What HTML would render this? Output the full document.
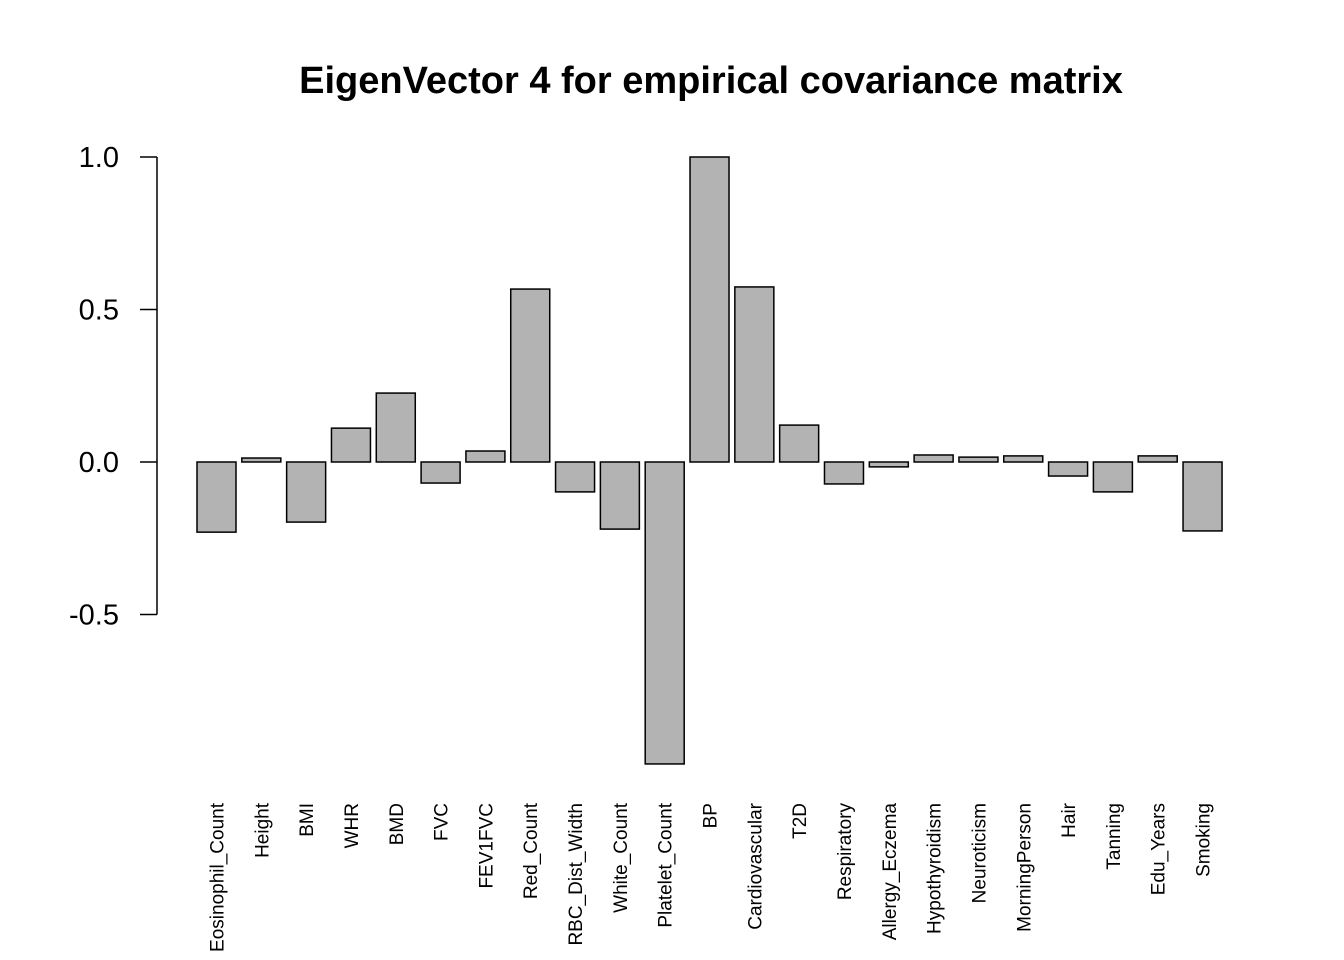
<!DOCTYPE html>
<html><head><meta charset="utf-8"><style>
body{margin:0;background:#fff}
svg{display:block;font-family:"Liberation Sans",Arial,sans-serif}
</style></head><body>
<svg id="chart" width="1344" height="960">
<text x="711" y="93" text-anchor="middle" font-size="38" font-weight="bold">EigenVector 4 for empirical covariance matrix</text>
<g id="yaxis"></g>
<g id="bars"></g>
<g id="xlabels"></g>
</svg>
<script>
const categories=["Eosinophil_Count","Height","BMI","WHR","BMD","FVC","FEV1FVC","Red_Count","RBC_Dist_Width","White_Count","Platelet_Count","BP","Cardiovascular","T2D","Respiratory","Allergy_Eczema","Hypothyroidism","Neuroticism","MorningPerson","Hair","Tanning","Edu_Years","Smoking"];
const values=[-0.23,0.013,-0.197,0.111,0.226,-0.069,0.036,0.567,-0.098,-0.22,-0.99,1.0,0.574,0.121,-0.072,-0.016,0.023,0.016,0.02,-0.046,-0.098,0.02,-0.226];
const yTicks=[-0.5,0.0,0.5,1.0];
const yTickLabels=["-0.5","0.0","0.5","1.0"];
const NS="http://www.w3.org/2000/svg";
const y=v=>462-v*305;
const x=i=>197+i*44.82;
const bw=39;
function mk(t,a,p){const e=document.createElementNS(NS,t);for(const k in a)e.setAttribute(k,a[k]);p.appendChild(e);return e;}
const ya=document.getElementById('yaxis');
const al=mk('line',{x1:157,x2:157,y1:y(yTicks[yTicks.length-1]),y2:y(yTicks[0]),stroke:'#000','stroke-width':1.5},ya);


yTicks.forEach((t,i)=>{
 const l=mk('line',{x1:140,x2:157,y1:y(t),y2:y(t),stroke:'#000','stroke-width':1.5},ya);
 
 
 const tx=mk('text',{x:119,y:y(t)+10,'text-anchor':'end','font-size':29},ya);
 tx.textContent=yTickLabels[i];
 
 
});
const bg=document.getElementById('bars'),xl=document.getElementById('xlabels');
values.forEach((v,i)=>{
 const top=Math.min(y(v),y(0)),h=Math.abs(y(v)-y(0));
 const r=mk('rect',{x:x(i),y:top,width:bw,height:Math.max(h,1),fill:'#b3b3b3',stroke:'#000','stroke-width':1.5},bg);
 
 
 const cx=x(i)+bw/2+7;
 const t=mk('text',{x:cx,y:803,transform:`rotate(-90 ${cx} 803)`,'text-anchor':'end','font-size':19},xl);
 t.textContent=categories[i];
 
 
});
</script>
</body></html>
